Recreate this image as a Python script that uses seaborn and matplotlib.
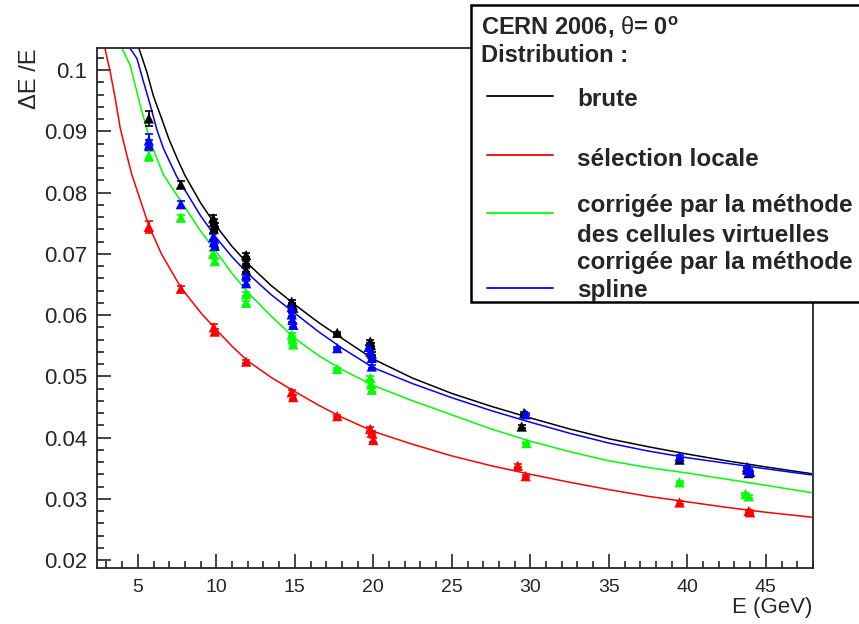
import numpy as np
import pandas as pd
import matplotlib
matplotlib.use("Agg")
import matplotlib.pyplot as plt
import seaborn as sns
from matplotlib.patches import Rectangle
from matplotlib.lines import Line2D
from matplotlib.ticker import MultipleLocator

# measured points (energy in GeV, resolution dE/E)
brute_E = [5.7, 7.74, 9.8, 9.84, 9.9, 9.84, 11.9, 11.9, 11.9, 14.8, 14.85, 14.9, 17.7,
           19.8, 19.85, 19.9, 29.45, 29.6, 39.5, 43.8, 43.9]
brute_v = [0.0921, 0.0813, 0.0758, 0.0752, 0.0747, 0.0741, 0.0698, 0.0686, 0.0673, 0.0622,
           0.0617, 0.0612, 0.0571, 0.0557, 0.0551, 0.0537, 0.0418, 0.0440, 0.0364, 0.0348, 0.0342]
brute_err = [0.0012, 0.0006, 0.0005, 0.0004, 0.0004, 0.0004, 0.0003, 0.0003, 0.0003, 0.0003,
             0.0003, 0.0003, 0.0002, 0.0003, 0.0003, 0.0003, 0.0002, 0.0002, 0.0002, 0.0002, 0.0002]

spline_E = [5.7, 5.7, 7.74, 9.8, 9.84, 9.9, 11.9, 11.9, 14.8, 14.8, 14.85, 14.9, 17.7,
            19.7, 19.8, 19.9, 19.9, 29.7, 39.5, 43.8, 43.9, 44.0]
spline_v = [0.0885, 0.0877, 0.0781, 0.0727, 0.0719, 0.0713, 0.0665, 0.0652, 0.0613, 0.0601,
            0.0592, 0.0584, 0.0546, 0.0548, 0.0540, 0.0530, 0.0516, 0.0438, 0.0369, 0.0352,
            0.0347, 0.0344]
spline_err = [0.0010, 0.0008, 0.0006, 0.0005, 0.0004, 0.0004, 0.0003, 0.0003, 0.0003, 0.0003,
              0.0003, 0.0003, 0.0002, 0.0003, 0.0003, 0.0003, 0.0003, 0.0002, 0.0002, 0.0002,
              0.0002, 0.0002]

cellv_E = [5.7, 7.74, 9.8, 9.9, 11.9, 11.9, 14.8, 14.85, 14.9, 17.7, 19.8, 19.85, 19.9,
           29.75, 39.5, 43.7, 43.9]
cellv_v = [0.0860, 0.0759, 0.0700, 0.0688, 0.0634, 0.0620, 0.0568, 0.0560, 0.0552, 0.0512,
           0.0497, 0.0487, 0.0478, 0.0391, 0.0327, 0.0308, 0.0304]
cellv_err = [0.0008, 0.0005, 0.0004, 0.0004, 0.0003, 0.0003, 0.0003, 0.0003, 0.0003, 0.0002,
             0.0003, 0.0003, 0.0003, 0.0002, 0.0002, 0.0002, 0.0002]

local_E = [5.7, 7.74, 9.84, 9.9, 11.9, 14.8, 14.9, 17.7, 19.8, 19.9, 20.0, 29.2, 29.7,
           39.5, 43.9, 44.0]
local_v = [0.0744, 0.0643, 0.0580, 0.0573, 0.0524, 0.0474, 0.0466, 0.0435, 0.0414, 0.0408,
           0.0396, 0.0354, 0.0337, 0.0294, 0.0280, 0.0278]
local_err = [0.0010, 0.0005, 0.0006, 0.0004, 0.0003, 0.0004, 0.0003, 0.0002, 0.0003, 0.0003,
             0.0004, 0.0002, 0.0002, 0.0002, 0.0002, 0.0002]

# fitted curves
brute_fitE = [5.06, 5.3, 5.57, 6.0, 6.5, 6.97, 7.5, 8.0, 9.0, 10.0, 11.0, 12.0, 13.5, 15.0,
              16.5, 18.0, 20.0, 22.5, 25.0, 27.5, 30.0, 32.5, 35.0, 37.5, 40.0, 42.5, 45.0, 47.9]
brute_fit = [0.1036, 0.1018, 0.0997, 0.0957, 0.0922, 0.0888, 0.0856, 0.0828, 0.0783, 0.0745,
             0.0712, 0.0684, 0.0648, 0.0617, 0.0588, 0.0562, 0.0528, 0.0497, 0.0472, 0.0451,
             0.0432, 0.0414, 0.0398, 0.0385, 0.0373, 0.0362, 0.0352, 0.0341]
spline_fitE = [4.49, 4.94, 5.36, 5.79, 6.21, 6.63, 7.48, 8.0, 9.0, 10.0, 11.0, 12.0, 13.5, 15.0,
               16.5, 18.0, 20.0, 22.5, 25.0, 27.5, 30.0, 32.5, 35.0, 37.5, 40.0, 42.5, 45.0, 47.9]
spline_fit = [0.1036, 0.1019, 0.0981, 0.0943, 0.0903, 0.0872, 0.0826, 0.0804, 0.0762, 0.0726,
              0.0695, 0.0668, 0.0633, 0.0603, 0.0573, 0.0546, 0.0514, 0.0488, 0.0465, 0.0444,
              0.0425, 0.0407, 0.0391, 0.0378, 0.0367, 0.0358, 0.0349, 0.0339]
cellv_fitE = [3.98, 4.51, 5.15, 5.79, 6.63, 8.0, 9.0, 10.0, 11.0, 12.0, 13.5, 15.0, 16.5, 18.0,
              20.0, 22.5, 25.0, 27.5, 30.0, 32.5, 35.0, 37.5, 40.0, 42.5, 45.0, 47.9]
cellv_fit = [0.1036, 0.1008, 0.0943, 0.0883, 0.0829, 0.0776, 0.0737, 0.0703, 0.0668, 0.0637,
             0.0598, 0.0562, 0.0534, 0.0511, 0.0485, 0.0460, 0.0437, 0.0414, 0.0394, 0.0377,
             0.0362, 0.0351, 0.0342, 0.0332, 0.0322, 0.0310]
local_fitE = [2.9, 3.24, 3.56, 3.88, 4.3, 4.62, 5.0, 5.7, 6.5, 7.74, 9.0, 10.0, 11.0, 12.0, 13.5,
              15.0, 16.5, 18.0, 20.0, 22.5, 25.0, 27.5, 30.0, 32.5, 35.0, 37.5, 40.0, 42.5, 45.0, 47.9]
local_fit = [0.1036, 0.0997, 0.0954, 0.0905, 0.0861, 0.0829, 0.0800, 0.0746, 0.0700, 0.0645,
             0.0604, 0.0576, 0.0549, 0.0525, 0.0498, 0.0475, 0.0453, 0.0433, 0.0410, 0.0389,
             0.0370, 0.0354, 0.0340, 0.0327, 0.0315, 0.0304, 0.0295, 0.0286, 0.0278, 0.0270]

names = ["brute", "locale", "cellv", "spline"]
colors = {"brute": "black", "locale": "#ff0000", "cellv": "#00ff00", "spline": "#0000ff"}
pts = {"brute": (brute_E, brute_v, brute_err), "locale": (local_E, local_v, local_err),
       "cellv": (cellv_E, cellv_v, cellv_err), "spline": (spline_E, spline_v, spline_err)}
fits = {"brute": (brute_fitE, brute_fit), "locale": (local_fitE, local_fit),
        "cellv": (cellv_fitE, cellv_fit), "spline": (spline_fitE, spline_fit)}

pts_df = pd.concat([pd.DataFrame({"E": pts[n][0], "v": pts[n][1], "serie": n}) for n in names])
fit_df = pd.concat([pd.DataFrame({"E": fits[n][0], "v": fits[n][1], "serie": n}) for n in names])

sns.set_style("ticks")
plt.rcParams["font.family"] = ["Liberation Sans", "DejaVu Sans"]
plt.rcParams["mathtext.fontset"] = "custom"
plt.rcParams["mathtext.rm"] = "Liberation Sans"
plt.rcParams["mathtext.it"] = "Liberation Sans"
plt.rcParams["mathtext.bf"] = "Liberation Sans:bold"

W, H = 859, 624
fig = plt.figure(figsize=(W / 100, H / 100), dpi=100)
ax = fig.add_axes([97 / W, 1 - 568 / H, (813 - 97) / W, (568 - 48) / H])

sns.lineplot(data=fit_df, x="E", y="v", hue="serie", palette=colors, estimator=None,
             lw=1.1, ax=ax, legend=False)
for n in names:
    ax.errorbar(pts[n][0], pts[n][1], yerr=pts[n][2], fmt="none", ecolor=colors[n],
                elinewidth=1.2, capsize=3, capthick=1.2, zorder=3)
sns.scatterplot(data=pts_df, x="E", y="v", hue="serie", palette=colors, marker="^", s=55,
                edgecolor="none", ax=ax, legend=False, zorder=4)

ax.set_xlim(2.4, 48.0)
ax.set_ylim(0.0187, 0.1036)
ax.xaxis.set_major_locator(MultipleLocator(5))
ax.xaxis.set_minor_locator(MultipleLocator(1))
ax.yaxis.set_minor_locator(MultipleLocator(0.002))
ax.set_yticks([0.02, 0.03, 0.04, 0.05, 0.06, 0.07, 0.08, 0.09, 0.1])
ax.set_yticklabels(["0.02", "0.03", "0.04", "0.05", "0.06", "0.07", "0.08", "0.09", "0.1"])
ax.tick_params(which="major", direction="in", length=10, width=1.2, pad=4)
ax.tick_params(which="minor", direction="in", length=5, width=1.2)
ax.tick_params(axis="x", labelsize=14, pad=8)
ax.tick_params(axis="y", labelsize=16, pad=7)
for s in ax.spines.values():
    s.set_linewidth(1.3)
ax.set_xlabel("")
ax.set_ylabel("")

fig.text(812 / W, 1 - 607 / H, "E (GeV)", ha="right", va="center", fontsize=16)
fig.text(30 / W, 1 - 48 / H, "ΔE /E", ha="center", va="top", rotation=90, fontsize=17)

# legend box drawn in figure pixels
fig.add_artist(Rectangle((471 / W, 1 - 302 / H), 400 / W, 297 / H, transform=fig.transFigure,
                         facecolor="white", edgecolor="black", lw=1.8, zorder=10))
fig.text(481 / W, 1 - 27 / H, r"CERN 2006, $\mathrm{\theta}$= 0$^{\mathbf{o}}$", fontsize=17,
         fontweight="bold", va="center", zorder=11)
fig.text(481 / W, 1 - 56 / H, "Distribution :", fontsize=17, fontweight="bold", va="center", zorder=11)
entries = [("brute", 96, [("brute", 99)]),
           ("locale", 155, [("sélection locale", 160)]),
           ("cellv", 213, [("corrigée par la méthode", 206), ("des cellules virtuelles", 235)]),
           ("spline", 288, [("corrigée par la méthode", 262), ("spline", 291)])]
for n, ly, labels in entries:
    fig.add_artist(Line2D([487 / W, 553 / W], [1 - ly / H, 1 - ly / H], color=colors[n], lw=1.3,
                          transform=fig.transFigure, zorder=11))
    for txt, ty in labels:
        fig.text(577 / W, 1 - ty / H, txt, fontsize=17.5, fontweight="bold", va="center", zorder=11)

fig.savefig("out.png", dpi=100)
